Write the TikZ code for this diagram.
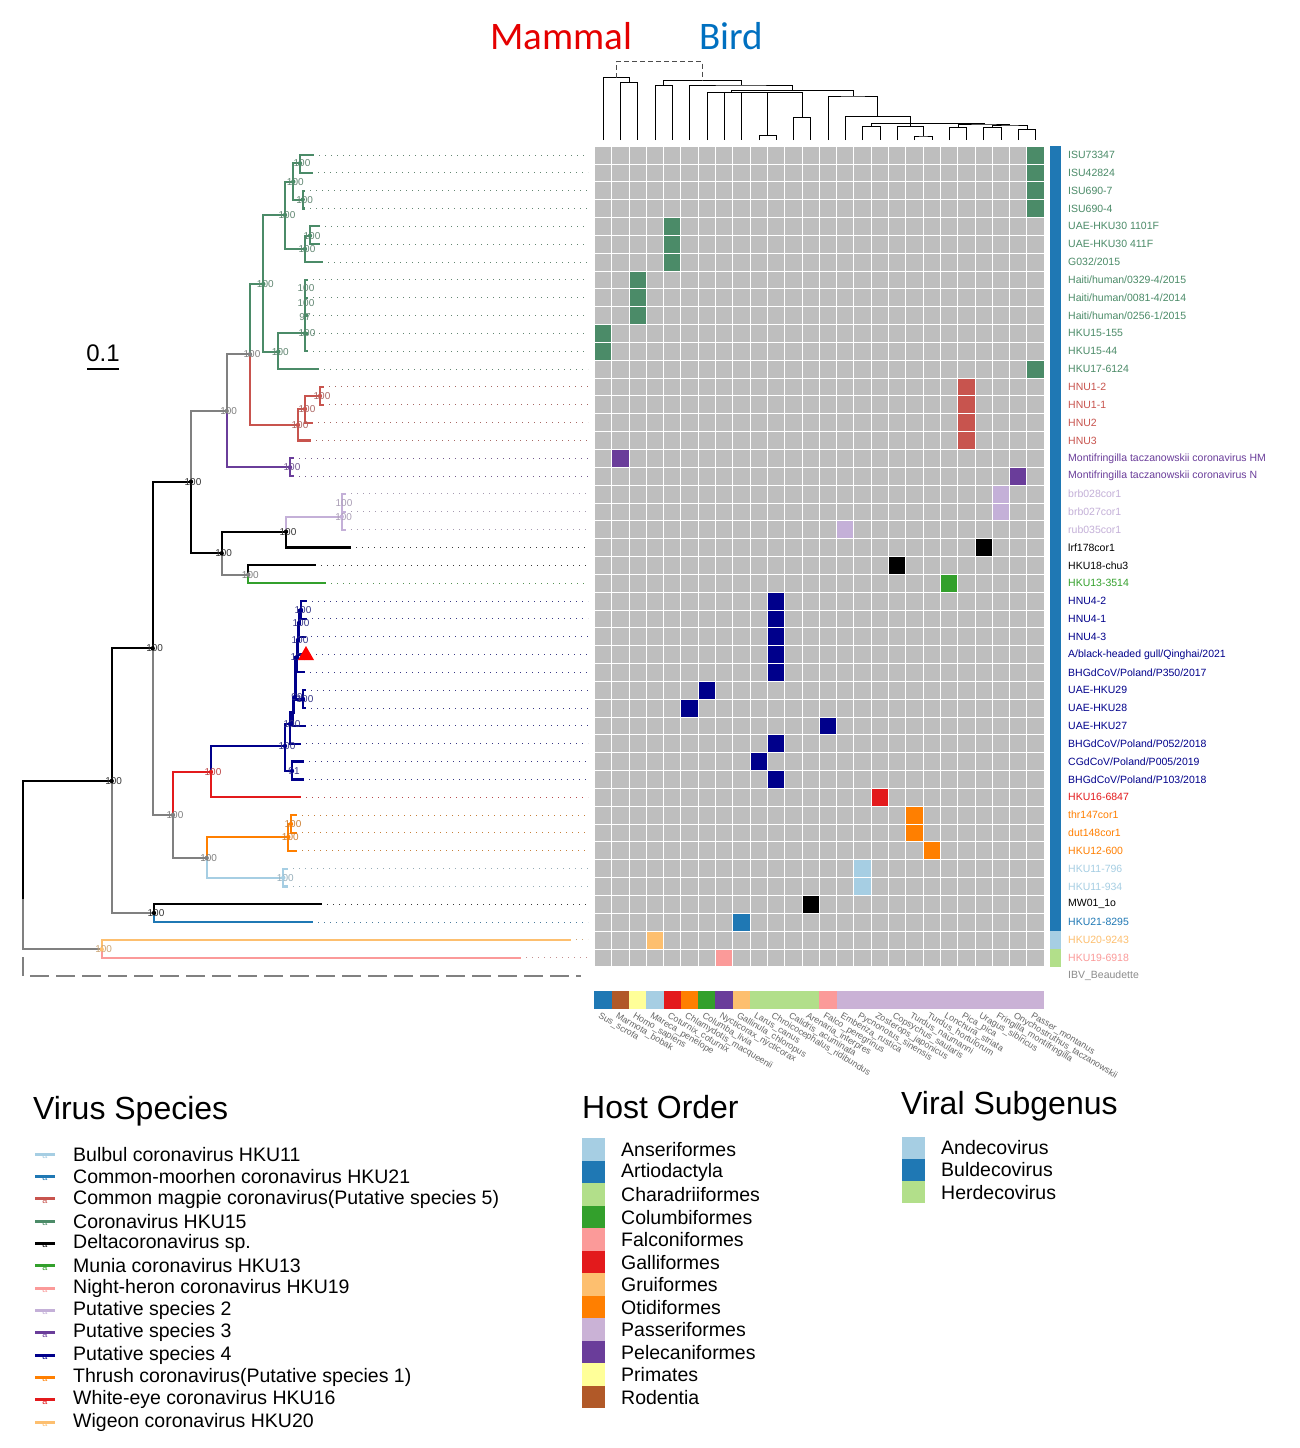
\documentclass[tikz,border=0pt]{standalone}
\usepackage{fontspec}
\setmainfont{Liberation Sans}
\newfontfamily\headfont{Carlito}
\usetikzlibrary{calc}

% virus species
\definecolor{colHKU}{HTML}{4B8B68}
\definecolor{colMag}{HTML}{C8544E}
\definecolor{colPsTwo}{HTML}{C4B0D8}
\definecolor{colPsThree}{HTML}{6A3D9A}
\definecolor{colPsFour}{HTML}{00008B}
\definecolor{colMunia}{HTML}{33A02C}
\definecolor{colWhiteEye}{HTML}{E31A1C}
\definecolor{colThrush}{HTML}{FF7F00}
\definecolor{colBulbul}{HTML}{A6CEE3}
\definecolor{colMoor}{HTML}{1F78B4}
\definecolor{colWigeon}{HTML}{FDBF6F}
\definecolor{colHeron}{HTML}{FB9A99}
\definecolor{colBack}{HTML}{808080}
\definecolor{colCell}{HTML}{BEBEBE}
% host order
\definecolor{hoAnser}{HTML}{A6CEE3}
\definecolor{hoArtio}{HTML}{1F78B4}
\definecolor{hoChar}{HTML}{B2DF8A}
\definecolor{hoColumb}{HTML}{33A02C}
\definecolor{hoFalco}{HTML}{FB9A99}
\definecolor{hoGalli}{HTML}{E31A1C}
\definecolor{hoGrui}{HTML}{FDBF6F}
\definecolor{hoOtid}{HTML}{FF7F00}
\definecolor{hoPass}{HTML}{CAB2D6}
\definecolor{hoPelec}{HTML}{6A3D9A}
\definecolor{hoPrim}{HTML}{FFFF99}
\definecolor{hoRod}{HTML}{B15928}

\tikzset{
  branch/.style={line width=2.2pt, line cap=rect},
  tipdots/.style={line width=1pt, dash pattern=on 1.2pt off 4.8pt},
  tiplabel/.style={anchor=west, inner sep=0pt, font=\fontsize{10.5}{12}\selectfont},
  bootlabel/.style={inner sep=0pt, font=\fontsize{10}{11}\selectfont},
  dendro/.style={line width=1pt},
  hostlabel/.style={anchor=west, rotate=-31, inner sep=0pt, text=black!60, font=\fontsize{9}{10}\selectfont},
  legtitle/.style={anchor=west, inner sep=0pt, font=\fontsize{32}{36}\selectfont},
  legtext/.style={anchor=west, inner sep=0pt, font=\fontsize{19.5}{22}\selectfont},
  legbox/.style={anchor=west, minimum width=23pt, minimum height=22.5pt, inner sep=0pt}
}

% row i of the tree and the heat map
\newcommand{\tiplab}[3]{%
  \coordinate (e#1) at (588,{155+(#1-1)*17.84});
  \draw[tipdots,#2!55!gray] (t#1) -- (e#1);
  \node[tiplabel,text=#2] (lab#1) at (1068,{155+(#1-1)*17.84}) {#3};}
% bootstrap value at a tree node
\newcommand{\bslab}[3]{%
  \node[bootlabel,text=#2!60!gray] (bs#1) at ([xshift=2pt]#1) {#3};
  \fill[#2] (#1) circle (2.2);}
% host cell of the heat map
\newcommand{\hcell}[4]{%
  \fill[#4] ({594.3+17.3*#1},{146.1+(#2-1)*17.84}) rectangle ({594.3+17.3*(#1+1)},{146.1+#3*17.84});}

\begin{document}
\begin{tikzpicture}[x=1pt,y=-1pt]
\useasboundingbox (0,0) rectangle (1299,1448);
\fill[white] (0,0) rectangle (1299,1448);

%Mammal / Bird
\node[text=red!90!black, font=\headfont\fontsize{39}{40}\selectfont] (mammal) at (561,36) {Mammal};
\node[text={rgb,255:red,0;green,112;blue,192}, font=\headfont\fontsize{39}{40}\selectfont] (bird) at (731,36) {Bird};

%host dendrogram
\foreach \j in {0,...,25}
  \coordinate (h\j) at ({603.3+17.3*\j},140);
\coordinate (m12) at (629.3,82.7);
\coordinate (m0) at (616.3,77.7);
\coordinate (b34) at (663.9,85.7);
\coordinate (b910) at (767.7,135.7);
\coordinate (b1112) at (802.3,117.3);
\coordinate (bpoly) at (731.7,92.7);
\coordinate (r1819) at (923.4,136);
\coordinate (r17) at (910.4,126.7);
\coordinate (r1516) at (871.5,126.7);
\coordinate (r2021) at (958,127.3);
\coordinate (r2223) at (992.6,127.3);
\coordinate (r2425) at (1027.2,129.3);
\coordinate (rde) at (1009.9,125);
\coordinate (rcde) at (984,124);
\coordinate (rpoly) at (910.4,123.3);
\coordinate (r14) at (877.8,116.7);
\coordinate (r13) at (853,96);
\coordinate (bmid) at (792.3,90.7);
\coordinate (b5) at (741,85);
\coordinate (broot) at (702.5,80.7);

\draw[dendro] (h1) |- (m12) -| (h2);
\draw[dendro] (h0) |- (m0) -| (m12);
\draw[dendro] (h3) |- (b34) -| (h4);
\draw[dendro] (h9) |- (b910) -| (h10);
\draw[dendro] (h11) |- (b1112) -| (h12);
\draw[dendro] (h6) |- (bpoly) -| (b1112);
\draw[dendro] (bpoly) -| (h7);
\draw[dendro] (bpoly) -| (h8);
\draw[dendro] (bpoly) -| (b910);
\draw[dendro] (h18) |- (r1819) -| (h19);
\draw[dendro] (h17) |- (r17) -| (r1819);
\draw[dendro] (h15) |- (r1516) -| (h16);
\draw[dendro] (h20) |- (r2021) -| (h21);
\draw[dendro] (h22) |- (r2223) -| (h23);
\draw[dendro] (h24) |- (r2425) -| (h25);
\draw[dendro] (r2223) |- (rde) -| (r2425);
\draw[dendro] (r2021) |- (rcde) -| (rde);
\draw[dendro] (r1516) |- (rpoly) -| (rcde);
\draw[dendro] (rpoly) -- (r17);
\draw[dendro] (h14) |- (r14) -| (rpoly);
\draw[dendro] (h13) |- (r13) -| (r14);
\draw[dendro] (bpoly) |- (bmid) -| (r13);
\draw[dendro] (h5) |- (b5) -| (bmid);
\draw[dendro] (b34) |- (broot) -| (b5);
\draw[dendro,black!70,dash pattern=on 5pt off 3pt] (m0) -- ++(0,-16) -| (broot);

%heat map
\fill[colCell] (594.3,146.1) rectangle (1044.1,966.7);
\hcell{25}{1}{4}{colHKU}
\hcell{4}{5}{7}{colHKU}
\hcell{2}{8}{10}{colHKU}
\hcell{0}{11}{12}{colHKU}
\hcell{25}{13}{13}{colHKU}
\hcell{21}{14}{17}{colMag}
\hcell{1}{18}{18}{colPsThree}
\hcell{24}{19}{19}{colPsThree}
\hcell{23}{20}{21}{colPsTwo}
\hcell{14}{22}{22}{colPsTwo}
\hcell{22}{23}{23}{black}
\hcell{17}{24}{24}{black}
\hcell{20}{25}{25}{colMunia}
\hcell{10}{26}{30}{colPsFour}
\hcell{6}{31}{31}{colPsFour}
\hcell{5}{32}{32}{colPsFour}
\hcell{13}{33}{33}{colPsFour}
\hcell{10}{34}{34}{colPsFour}
\hcell{9}{35}{35}{colPsFour}
\hcell{10}{36}{36}{colPsFour}
\hcell{16}{37}{37}{colWhiteEye}
\hcell{18}{38}{39}{colThrush}
\hcell{19}{40}{40}{colThrush}
\hcell{15}{41}{42}{colBulbul}
\hcell{12}{43}{43}{black}
\hcell{8}{44}{44}{colMoor}
\hcell{3}{45}{45}{colWigeon}
\hcell{7}{46}{46}{colHeron}
\foreach \j in {0,...,26}
  \draw[white,line width=0.8pt] ({594.3+17.3*\j},146.1) -- ({594.3+17.3*\j},966.7);
\foreach \r in {0,...,46}
  \draw[white,line width=0.8pt] (594.3,{146.1+17.84*\r}) -- (1044.1,{146.1+17.84*\r});

%subgenus bar
\fill[colMoor] (1050,146.1) rectangle (1061,931.06);
\fill[colBulbul] (1050,931.06) rectangle (1061,948.9);
\fill[hoChar] (1050,948.9) rectangle (1061,966.7);

%host order bar and host names
\foreach \hc/\hname [count=\j from 0] in {hoArtio/Sus\_scrofa, hoRod/Marmota\_bobak, hoPrim/Homo\_sapiens,
    hoAnser/Mareca\_penelope, hoGalli/Coturnix\_coturnix, hoOtid/Chlamydotis\_macqueenii,
    hoColumb/Columba\_livia, hoPelec/Nycticorax\_nycticorax, hoGrui/Gallinula\_chloropus,
    hoChar/Larus\_canus, hoChar/Chroicocephalus\_ridibundus, hoChar/Calidris\_acuminata,
    hoChar/Arenaria\_interpres, hoFalco/Falco\_peregrinus, hoPass/Emberiza\_rustica,
    hoPass/Pycnonotus\_sinensis, hoPass/Zosterops\_japonicus, hoPass/Copsychus\_saularis,
    hoPass/Turdus\_naumanni, hoPass/Turdus\_hortulorum, hoPass/Lonchura\_striata,
    hoPass/Pica\_pica, hoPass/Uragus\_sibiricus, hoPass/Fringilla\_montifringilla,
    hoPass/Onychostruthus\_taczanowskii, hoPass/Passer\_montanus}
{
  \fill[\hc] ({594.3+17.3*\j},991) rectangle ({594.3+17.3*(\j+1)},1008.5);
  \node[hostlabel] (host\j) at ({599+17.3*\j},1015) {\hname};
}

%tips of the tree
\foreach \tx [count=\i] in {313,312,304,304,319,319,322,307,307,307,307,307,318,323,323,312,310,293,293,
    345,345,345,350,315,325,306,306,305,304,304,305,305,305,300,303,303,300,296,296,296,287,287,321,312,570,520,580}
  \coordinate (t\i) at (\tx,{155+(\i-1)*17.84});

\tiplab{1}{colHKU}{ISU73347}
\tiplab{2}{colHKU}{ISU42824}
\tiplab{3}{colHKU}{ISU690-7}
\tiplab{4}{colHKU}{ISU690-4}
\tiplab{5}{colHKU}{UAE-HKU30 1101F}
\tiplab{6}{colHKU}{UAE-HKU30 411F}
\tiplab{7}{colHKU}{G032/2015}
\tiplab{8}{colHKU}{Haiti/human/0329-4/2015}
\tiplab{9}{colHKU}{Haiti/human/0081-4/2014}
\tiplab{10}{colHKU}{Haiti/human/0256-1/2015}
\tiplab{11}{colHKU}{HKU15-155}
\tiplab{12}{colHKU}{HKU15-44}
\tiplab{13}{colHKU}{HKU17-6124}
\tiplab{14}{colMag}{HNU1-2}
\tiplab{15}{colMag}{HNU1-1}
\tiplab{16}{colMag}{HNU2}
\tiplab{17}{colMag}{HNU3}
\tiplab{18}{colPsThree}{Montifringilla taczanowskii coronavirus HM}
\tiplab{19}{colPsThree}{Montifringilla taczanowskii coronavirus N}
\tiplab{20}{colPsTwo}{brb028cor1}
\tiplab{21}{colPsTwo}{brb027cor1}
\tiplab{22}{colPsTwo}{rub035cor1}
\tiplab{23}{black}{lrf178cor1}
\tiplab{24}{black}{HKU18-chu3}
\tiplab{25}{colMunia}{HKU13-3514}
\tiplab{26}{colPsFour}{HNU4-2}
\tiplab{27}{colPsFour}{HNU4-1}
\tiplab{28}{colPsFour}{HNU4-3}
\tiplab{29}{colPsFour}{A/black-headed gull/Qinghai/2021}
\tiplab{30}{colPsFour}{BHGdCoV/Poland/P350/2017}
\tiplab{31}{colPsFour}{UAE-HKU29}
\tiplab{32}{colPsFour}{UAE-HKU28}
\tiplab{33}{colPsFour}{UAE-HKU27}
\tiplab{34}{colPsFour}{BHGdCoV/Poland/P052/2018}
\tiplab{35}{colPsFour}{CGdCoV/Poland/P005/2019}
\tiplab{36}{colPsFour}{BHGdCoV/Poland/P103/2018}
\tiplab{37}{colWhiteEye}{HKU16-6847}
\tiplab{38}{colThrush}{thr147cor1}
\tiplab{39}{colThrush}{dut148cor1}
\tiplab{40}{colThrush}{HKU12-600}
\tiplab{41}{colBulbul}{HKU11-796}
\tiplab{42}{colBulbul}{HKU11-934}
\tiplab{43}{black}{MW01\_1o}
\tiplab{44}{colMoor}{HKU21-8295}
\tiplab{45}{colWigeon}{HKU20-9243}
\tiplab{46}{colHeron}{HKU19-6918}
\node[tiplabel,text=black!45] (lab47) at (1068,975.6) {IBV\_Beaudette};

%tree nodes
\coordinate (nRoot) at (22.7,900);
\coordinate (nK) at (101.7,949.3);
\coordinate (nA) at (111.7,781);
\coordinate (nA2) at (154,913);
\coordinate (nB) at (152.7,648.3);
\coordinate (nC) at (191,481.7);
\coordinate (nD) at (226.7,411);
\coordinate (nE) at (250,354.3);
\coordinate (nPth) at (290,467.3);
\coordinate (nH) at (263.3,284);
\coordinate (nI) at (285,215);
\coordinate (nJ) at (293.3,181.7);
\coordinate (nKk) at (300,163.3);
\coordinate (nL) at (302.7,199.6);
\coordinate (nM) at (305,249);
\coordinate (nN) at (310,235.7);
\coordinate (nO) at (278.3,351.7);
\coordinate (nP) at (305,333.3);
\coordinate (nF) at (298,425);
\coordinate (nFb) at (305,409);
\coordinate (nG) at (320,396);
\coordinate (nQ) at (221.7,553.3);
\coordinate (nR) at (286,531.7);
\coordinate (nS) at (341.7,516.7);
\coordinate (nT) at (248.3,574.7);
\coordinate (nU) at (173,815);
\coordinate (nV) at (211,772);
\coordinate (nW) at (285,746);
\coordinate (nWa) at (290,724);
\coordinate (nWb) at (292,771);
\coordinate (nWc) at (293,712);
\coordinate (nWd) at (295,697);
\coordinate (nWe) at (303,699);
\coordinate (nWi) at (297,657);
\coordinate (nWf) at (298,640);
\coordinate (nWg) at (299,623);
\coordinate (nWh) at (301,610);
\coordinate (nZ) at (206.7,858);
\coordinate (nTh) at (288.3,837);
\coordinate (nThb) at (291,824);
\coordinate (nBb) at (283.3,877.7);
\coordinate (nOut) at (22.7,958);

%backbone
\draw[branch] (nRoot) |- (nA);
\draw[branch,colBack] (nRoot) |- (nK);
\draw[branch,colWigeon] (nK) |- (t45);
\draw[branch,colHeron] (nK) |- (t46);
\draw[branch,colBack,line width=2pt,dash pattern=on 17pt off 9pt] (nOut) |- (t47);
\draw[branch] (nA) |- (nB);
\draw[branch,colBack] (nA) |- (nA2);
\draw[branch] (nA2) |- (t43);
\draw[branch,colMoor] (nA2) |- (t44);
\draw[branch] (nB) |- (nC);
\draw[branch,colBack] (nB) |- (nU);
\draw[branch,colBack] (nC) |- (nD);
\draw[branch] (nC) |- (nQ);
\draw[branch,colBack] (nD) |- (nE);
\draw[branch,colPsThree] (nD) |- (nPth);
\draw[branch,colPsThree] (nPth) |- (t18);
\draw[branch,colPsThree] (nPth) |- (t19);

%Coronavirus HKU15
\draw[branch,colHKU] (nE) |- (nH);
\draw[branch,colHKU] (nH) |- (nI);
\draw[branch,colHKU] (nH) |- (nO);
\draw[branch,colHKU] (nI) |- (nJ);
\draw[branch,colHKU] (nI) |- (nM);
\draw[branch,colHKU] (nJ) |- (nKk);
\draw[branch,colHKU] (nJ) |- (nL);
\draw[branch,colHKU] (nKk) |- (t1);
\draw[branch,colHKU] (nKk) |- (t2);
\draw[branch,colHKU] (nL) |- (t3);
\draw[branch,colHKU] (nL) |- (t4);
\draw[branch,colHKU] (nM) |- (nN);
\draw[branch,colHKU] (nM) |- (t7);
\draw[branch,colHKU] (nN) |- (t5);
\draw[branch,colHKU] (nN) |- (t6);
\draw[branch,colHKU] (nO) |- (nP);
\draw[branch,colHKU] (nO) |- (t13);
\foreach \q in {8,...,12}
  \draw[branch,colHKU] (nP) |- (t\q);

%Common magpie
\draw[branch,colMag] (nE) |- (nF);
\draw[branch,colMag] (nF) |- (nFb);
\draw[branch,colMag] (nF) |- (t17);
\draw[branch,colMag] (nFb) |- (nG);
\draw[branch,colMag] (nFb) |- (t16);
\draw[branch,colMag] (nG) |- (t14);
\draw[branch,colMag] (nG) |- (t15);

%Putative species 2 and friends
\draw[branch] (nQ) |- (nR);
\draw[branch,colBack] (nQ) |- (nT);
\draw[branch,colPsTwo] (nR) |- (nS);
\draw[branch] (nR) |- (t23);
\foreach \q in {20,21,22}
  \draw[branch,colPsTwo] (nS) |- (t\q);
\draw[branch] (nT) |- (t24);
\draw[branch,colMunia] (nT) |- (t25);

%White-eye and Putative species 4
\draw[branch,colWhiteEye] (nU) |- (nV);
\draw[branch,colBack] (nU) |- (nZ);
\draw[branch,colPsFour] (nV) |- (nW);
\draw[branch,colWhiteEye] (nV) |- (t37);
\draw[branch,colPsFour] (nW) |- (nWa);
\draw[branch,colPsFour] (nW) |- (nWb);
\draw[branch,colPsFour] (nWb) |- (t35);
\draw[branch,colPsFour] (nWb) |- (t36);
\draw[branch,colPsFour,line width=3pt] (nWa) |- (nWc);
\draw[branch,colPsFour] (nWa) |- (t34);
\draw[branch,colPsFour,line width=3pt] (nWc) |- (nWd);
\draw[branch,colPsFour] (nWc) |- (t33);
\draw[branch,colPsFour,line width=3pt] (nWd) |- (nWi);
\draw[branch,colPsFour,line width=3pt] (nWd) |- (nWe);
\draw[branch,colPsFour] (nWe) |- (t31);
\draw[branch,colPsFour] (nWe) |- (t32);
\draw[branch,colPsFour,line width=3pt] (nWi) |- (nWf);
\draw[branch,colPsFour] (nWi) |- (t30);
\draw[branch,colPsFour,line width=3pt] (nWf) |- (nWg);
\draw[branch,colPsFour] (nWf) |- (t29);
\draw[branch,colPsFour,line width=3pt] (nWg) |- (nWh);
\draw[branch,colPsFour] (nWg) |- (t28);
\draw[branch,colPsFour] (nWh) |- (t26);
\draw[branch,colPsFour] (nWh) |- (t27);

%Thrush and Bulbul
\draw[branch,colThrush] (nZ) |- (nTh);
\draw[branch,colBulbul] (nZ) |- (nBb);
\draw[branch,colThrush] (nTh) |- (nThb);
\draw[branch,colThrush] (nTh) |- (t40);
\draw[branch,colThrush] (nThb) |- (t38);
\draw[branch,colThrush] (nThb) |- (t39);
\draw[branch,colBulbul] (nBb) |- (t41);
\draw[branch,colBulbul] (nBb) |- (t42);

%bootstrap values
\bslab{nA}{black}{100}
\bslab{nB}{black}{100}
\bslab{nC}{black}{100}
\bslab{nD}{colBack}{100}
\bslab{nE}{colBack}{100}
\bslab{nH}{colHKU}{100}
\bslab{nI}{colHKU}{100}
\bslab{nJ}{colHKU}{100}
\bslab{nKk}{colHKU}{100}
\bslab{nL}{colHKU}{100}
\bslab{nM}{colHKU}{100}
\bslab{nN}{colHKU}{100}
\bslab{nO}{colHKU}{100}
\bslab{nP}{colHKU}{100}
\node[bootlabel,text=colHKU!60!gray] (bsHa) at (306,288.5) {100};
\node[bootlabel,text=colHKU!60!gray] (bsHb) at (306,302.7) {100};
\node[bootlabel,text=colHKU!60!gray] (bsHc) at (305,316.7) {97};
\bslab{nF}{colMag}{100}
\bslab{nFb}{colMag}{100}
\bslab{nG}{colMag}{100}
\bslab{nPth}{colPsThree}{100}
\bslab{nQ}{black}{100}
\bslab{nR}{black}{100}
\bslab{nS}{colPsTwo}{100}
\node[bootlabel,text=colPsTwo!60!gray] (bsSb) at (344,503) {100};
\bslab{nT}{colBack}{100}
\bslab{nU}{colBack}{100}
\bslab{nV}{colWhiteEye}{100}
\bslab{nW}{colPsFour}{100}
\bslab{nWb}{colPsFour}{91}
\bslab{nWa}{colPsFour}{100}
\bslab{nWd}{colPsFour}{99}
\bslab{nWe}{colPsFour}{100}
\bslab{nWi}{colPsFour}{100}
\bslab{nWf}{colPsFour}{100}
\bslab{nWg}{colPsFour}{100}
\bslab{nWh}{colPsFour}{100}
\bslab{nZ}{colBack}{100}
\bslab{nTh}{colThrush}{100}
\bslab{nThb}{colThrush}{100}
\bslab{nBb}{colBulbul}{100}
\bslab{nA2}{black}{100}
\bslab{nK}{colWigeon}{100}

%gull sample
\fill[red] (298,660) -- (314,660) -- (306,646) -- cycle;

%scale bar
\node[font=\fontsize{24}{26}\selectfont, inner sep=0pt] (scalebar) at (103,353) {0.1};
\draw[line width=2pt] (87,369) -- (119,369);

%legend: Virus Species
\node[legtitle] (vstitle) at (33,1111) {Virus Species};
\foreach \vc/\vname [count=\q] in {colBulbul/Bulbul coronavirus HKU11,
    colMoor/Common-moorhen coronavirus HKU21,
    colMag/Common magpie coronavirus(Putative species 5),
    colHKU/Coronavirus HKU15,
    black/Deltacoronavirus sp.,
    colMunia/Munia coronavirus HKU13,
    colHeron/Night-heron coronavirus HKU19,
    colPsTwo/Putative species 2,
    colPsThree/Putative species 3,
    colPsFour/Putative species 4,
    colThrush/Thrush coronavirus(Putative species 1),
    colWhiteEye/White-eye coronavirus HKU16,
    colWigeon/Wigeon coronavirus HKU20}
{
  \draw[\vc,line width=3pt] (35,{1154.3+22.33*(\q-1)}) -- (55,{1154.3+22.33*(\q-1)});
  \node[text=\vc, inner sep=0pt, font=\fontsize{9}{9}\selectfont] (vskey\q) at (45,{1156+22.33*(\q-1)}) {a};
  \node[legtext] (vslab\q) at (73,{1154.3+22.33*(\q-1)}) {\vname};
}

%legend: Host Order
\node[legtitle] (hotitle) at (582,1107) {Host Order};
\foreach \hc/\hname [count=\q] in {hoAnser/Anseriformes, hoArtio/Artiodactyla, hoChar/Charadriiformes,
    hoColumb/Columbiformes, hoFalco/Falconiformes, hoGalli/Galliformes, hoGrui/Gruiformes,
    hoOtid/Otidiformes, hoPass/Passeriformes, hoPelec/Pelecaniformes, hoPrim/Primates, hoRod/Rodentia}
{
  \node[legbox,fill=\hc] (hobox\q) at (582,{1138.3+22.5*(\q-0.5)}) {};
  \node[legtext] (holab\q) at (621,{1138.3+22.5*(\q-0.5)}) {\hname};
}

%legend: Viral Subgenus
\node[legtitle] (sgtitle) at (901,1106) {Viral Subgenus};
\foreach \sgc/\sgname [count=\q] in {colBulbul/Andecovirus, colMoor/Buldecovirus, hoChar/Herdecovirus}
{
  \node[legbox,fill=\sgc] (sgbox\q) at (902,{1136.7+22.2*(\q-0.5)}) {};
  \node[legtext] (sglab\q) at (941,{1136.7+22.2*(\q-0.5)}) {\sgname};
}

\end{tikzpicture}
\end{document}
